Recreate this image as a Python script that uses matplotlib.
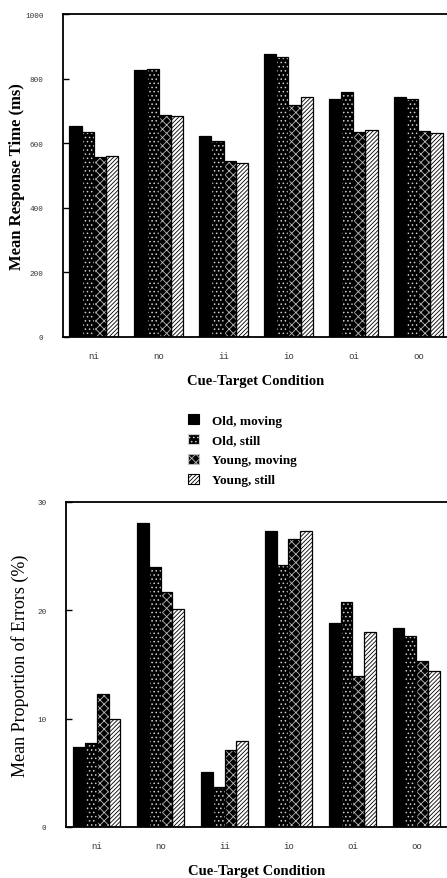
import matplotlib
matplotlib.use("Agg")
import matplotlib.pyplot as plt
import numpy as np
from matplotlib.patches import Patch

conditions = ["ni", "no", "ii", "io", "oi", "oo"]
series_names = ["Old, moving", "Old, still", "Young, moving", "Young, still"]

rt_old_moving = [652, 826, 622, 876, 738, 742]
rt_old_still = [636, 830, 607, 866, 758, 738]
rt_young_moving = [558, 686, 544, 719, 636, 638]
rt_young_still = [561, 683, 539, 743, 640, 632]

err_old_moving = [7.4, 28.1, 5.1, 27.3, 18.8, 18.4]
err_old_still = [7.8, 24.0, 3.7, 24.2, 20.8, 17.6]
err_young_moving = [12.3, 21.7, 7.1, 26.6, 13.9, 15.3]
err_young_still = [10.0, 20.1, 7.9, 27.3, 18.0, 14.4]

rt_ticks = [0, 200, 400, 600, 800, 1000]
err_ticks = [0, 10, 20, 30]

styles = [
    dict(facecolor="black", edgecolor="black", hatch=None),
    dict(facecolor="black", edgecolor="#cfcfcf", hatch="...."),
    dict(facecolor="black", edgecolor="#bcbcbc", hatch="xxxx"),
    dict(facecolor="white", edgecolor="black", hatch="////////"),
]

plt.rcParams["hatch.linewidth"] = 0.6

W, H = 447, 879
fig = plt.figure(figsize=(W / 100, H / 100), dpi=100)

serif = ["Liberation Serif", "DejaVu Serif"]
mono = ["Liberation Mono", "DejaVu Sans Mono"]


def add_axes_px(left, top, bottom, right):
    return fig.add_axes([left / W, 1 - bottom / H, (right - left) / W, (bottom - top) / H])


def draw(ax, data, ticks, ylabel, ylabel_weight, ylabel_size, ylabel_x, xlim):
    x = np.arange(len(conditions))
    w = 0.185
    offsets = (np.arange(4) - 1.5) * w
    for vals, st, off in zip(data, styles, offsets):
        ax.bar(x + off, vals, width=w, facecolor=st["facecolor"],
               edgecolor=st["edgecolor"], hatch=st["hatch"], linewidth=0, zorder=2)
        ax.bar(x + off, vals, width=w, facecolor="none", edgecolor="black",
               linewidth=0.9, zorder=3)
    ax.set_xlim(*xlim)
    ax.set_ylim(ticks[0], ticks[-1])
    ax.set_yticks(ticks)
    ax.set_yticklabels([str(t) for t in ticks], family=mono, fontsize=5.5, color="#333333")
    ax.set_xticks(x)
    ax.set_xticklabels(conditions, family=mono, fontsize=6.5, color="#333333")
    ax.tick_params(axis="y", direction="in", length=4, width=1, pad=14)
    ax.tick_params(axis="x", length=0, pad=10)
    for s in ["left", "bottom", "top"]:
        ax.spines[s].set_linewidth(1.3)
    ax.spines["right"].set_visible(False)
    ax.set_ylabel(ylabel, family=serif, fontsize=ylabel_size, fontweight=ylabel_weight)
    ax.yaxis.set_label_coords(ylabel_x, 0.5)
    ax.set_xlabel("Cue-Target Condition", family=serif, fontsize=10.5,
                  fontweight="bold", labelpad=10)


ax1 = add_axes_px(63, 15, 338, 449)
draw(ax1, [rt_old_moving, rt_old_still, rt_young_moving, rt_young_still],
     rt_ticks, "Mean Response Time (ms)", "bold", 12, -0.098, (-0.47, 5.47))

ax2 = add_axes_px(66, 503, 828, 447)
draw(ax2, [err_old_moving, err_old_still, err_young_moving, err_young_still],
     err_ticks, "Mean Proportion of Errors (%)", "normal", 13, -0.097, (-0.48, 5.48))

handles = [Patch(facecolor=st["facecolor"], edgecolor=st["edgecolor"], hatch=st["hatch"],
                 linewidth=0.8) for st in styles]
leg = fig.legend(handles, series_names, loc="upper left",
                 bbox_to_anchor=(188 / W, 1 - 415 / H), frameon=False,
                 prop=dict(family=serif, size=9.5, weight="bold"),
                 handlelength=0.8, handleheight=0.8, handletextpad=1.0,
                 labelspacing=0.55, borderpad=0, borderaxespad=0)

fig.savefig("out.png", dpi=100)
